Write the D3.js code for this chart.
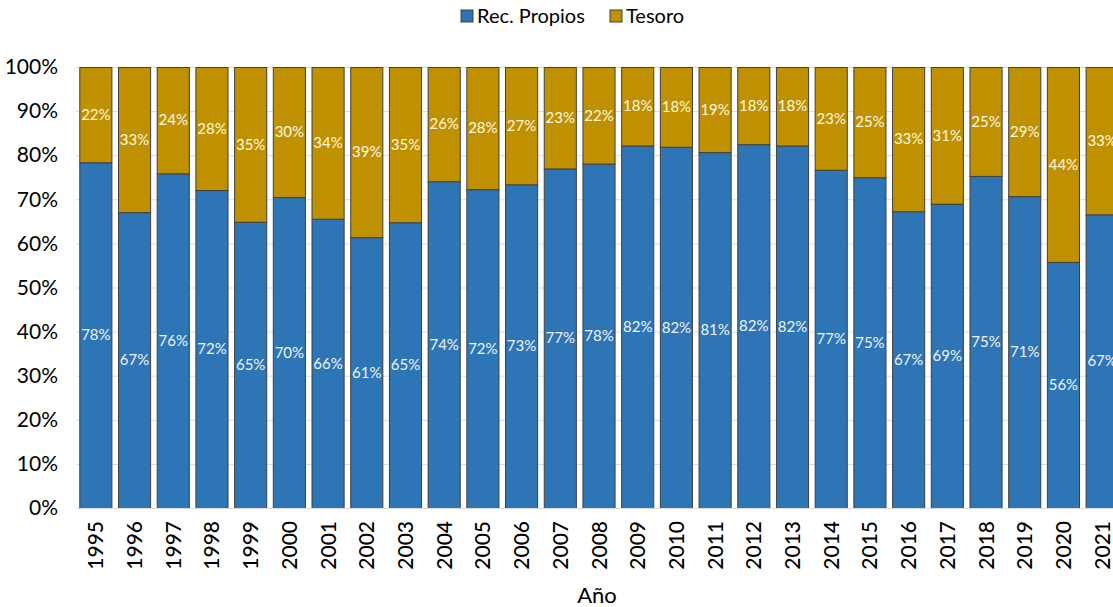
<!DOCTYPE html>
<html>
<head>
<meta charset="utf-8">
<script src="https://cdn.jsdelivr.net/npm/d3@7"></script>
<style>
  body { margin: 0; background: #fff; }
  text { font-family: Lato, "Open Sans", sans-serif; }
</style>
</head>
<body>
<svg width="1113" height="607"></svg>
<script>
var years = ["1995","1996","1997","1998","1999","2000","2001","2002","2003","2004","2005","2006","2007",
  "2008","2009","2010","2011","2012","2013","2014","2015","2016","2017","2018","2019","2020","2021"];

// share of "Rec. Propios" (%), tesoro is the rest
var recPropios = [78.4, 67.1, 75.9, 72.1, 64.9, 70.5, 65.6, 61.4, 64.8, 74.1, 72.3, 73.4, 77.0,
  78.1, 82.2, 81.9, 80.7, 82.5, 82.2, 76.7, 75.0, 67.3, 69.0, 75.3, 70.7, 55.8, 66.6];

var recLabels = ["78%","67%","76%","72%","65%","70%","66%","61%","65%","74%","72%","73%","77%",
  "78%","82%","82%","81%","82%","82%","77%","75%","67%","69%","75%","71%","56%","67%"];
var tesLabels = ["22%","33%","24%","28%","35%","30%","34%","39%","35%","26%","28%","27%","23%",
  "22%","18%","18%","19%","18%","18%","23%","25%","33%","31%","25%","29%","44%","33%"];

var seriesNames = ["Rec. Propios", "Tesoro"];
var seriesColors = ["#2E75B6", "#BF9000"];
var yTicks = [0, 10, 20, 30, 40, 50, 60, 70, 80, 90, 100];

var svg = d3.select("svg"),
    width = +svg.attr("width"),
    height = +svg.attr("height");

var x = d3.scaleBand()
    .domain(years)
    .range([76, 1121])
    .paddingInner(0.17)
    .paddingOuter(0.085);

var y = d3.scaleLinear()
    .domain([0, 100])
    .range([508, 67]);

var color = d3.scaleOrdinal().domain(seriesNames).range(seriesColors);

// grid
svg.append("g")
    .attr("class", "grid")
  .selectAll("line")
  .data(yTicks)
  .enter().append("line")
    .attr("x1", 76)
    .attr("x2", width)
    .attr("y1", function(d) { return y(d) + 0.5; })
    .attr("y2", function(d) { return y(d) + 0.5; })
    .attr("stroke", "#d9d9d9")
    .attr("stroke-width", 1);

// y axis labels
var yAxis = d3.axisLeft(y)
    .tickValues(yTicks)
    .tickFormat(function(d) { return d + "%"; })
    .tickSize(0)
    .tickPadding(0);

svg.append("g")
    .attr("transform", "translate(58,0)")
    .call(yAxis)
    .call(function(g) { g.select(".domain").remove(); })
    .selectAll("text")
      .attr("font-size", 21)
      .attr("fill", "#000")
      .style("font-family", "Lato, 'Open Sans', sans-serif");

var stackData = years.map(function(yr, i) {
  return { year: yr, "Rec. Propios": recPropios[i], "Tesoro": 100 - recPropios[i], i: i };
});

var stack = d3.stack().keys(seriesNames);
var layers = stack(stackData);

var layer = svg.append("g")
  .selectAll("g")
  .data(layers)
  .enter().append("g")
    .attr("fill", function(d) { return color(d.key); });

layer.selectAll("rect")
  .data(function(d) { return d; })
  .enter().append("rect")
    .attr("x", function(d) { return x(d.data.year) + 0.5; })
    .attr("y", function(d) { return y(d[1]) + 0.5; })
    .attr("width", x.bandwidth())
    .attr("height", function(d) { return y(d[0]) - y(d[1]); })
    .attr("stroke", "#404040")
    .attr("stroke-width", 1);

// value labels
layer.selectAll("text")
  .data(function(d) { return d.map(function(p) { p.key = d.key; return p; }); })
  .enter().append("text")
    .attr("x", function(d) { return x(d.data.year) + x.bandwidth() / 2 + 0.5; })
    .attr("y", function(d) { return (y(d[0]) + y(d[1])) / 2; })
    .attr("dy", "0.35em")
    .attr("text-anchor", "middle")
    .attr("font-size", 15)
    .attr("fill", function(d) { return d.key == "Tesoro" ? "#fff8e0" : "#eef3fb"; })
    .text(function(d) { return d.key == "Tesoro" ? tesLabels[d.data.i] : recLabels[d.data.i]; });

// baseline
svg.append("line")
    .attr("x1", 76)
    .attr("x2", width)
    .attr("y1", y(0) + 0.5)
    .attr("y2", y(0) + 0.5)
    .attr("stroke", "#d9d9d9");

// x labels (rotated)
svg.append("g")
  .selectAll("text")
  .data(years)
  .enter().append("text")
    .attr("transform", function(d) {
      return "translate(" + (x(d) + x.bandwidth() / 2 + 8) + ",521) rotate(-90)";
    })
    .attr("text-anchor", "end")
    .attr("font-size", 21)
    .attr("font-weight", 500)
    .attr("fill", "#000")
    .text(function(d) { return d; });

// axis title
svg.append("text")
    .attr("x", 597)
    .attr("y", 603)
    .attr("text-anchor", "middle")
    .attr("font-size", 22)
    .attr("fill", "#000")
    .text("Año");

// legend
var legendX = [461, 610];
var legend = svg.append("g")
  .selectAll("g")
  .data(seriesNames)
  .enter().append("g")
    .attr("transform", function(d, i) { return "translate(" + legendX[i] + ",10)"; });

legend.append("rect")
    .attr("width", 12)
    .attr("height", 12)
    .attr("fill", function(d) { return color(d); })
    .attr("stroke", "#404040");

legend.append("text")
    .attr("x", 16)
    .attr("y", 13)
    .attr("font-size", 20)
    .attr("fill", "#000")
    .text(function(d) { return d; });
</script>
</body>
</html>
